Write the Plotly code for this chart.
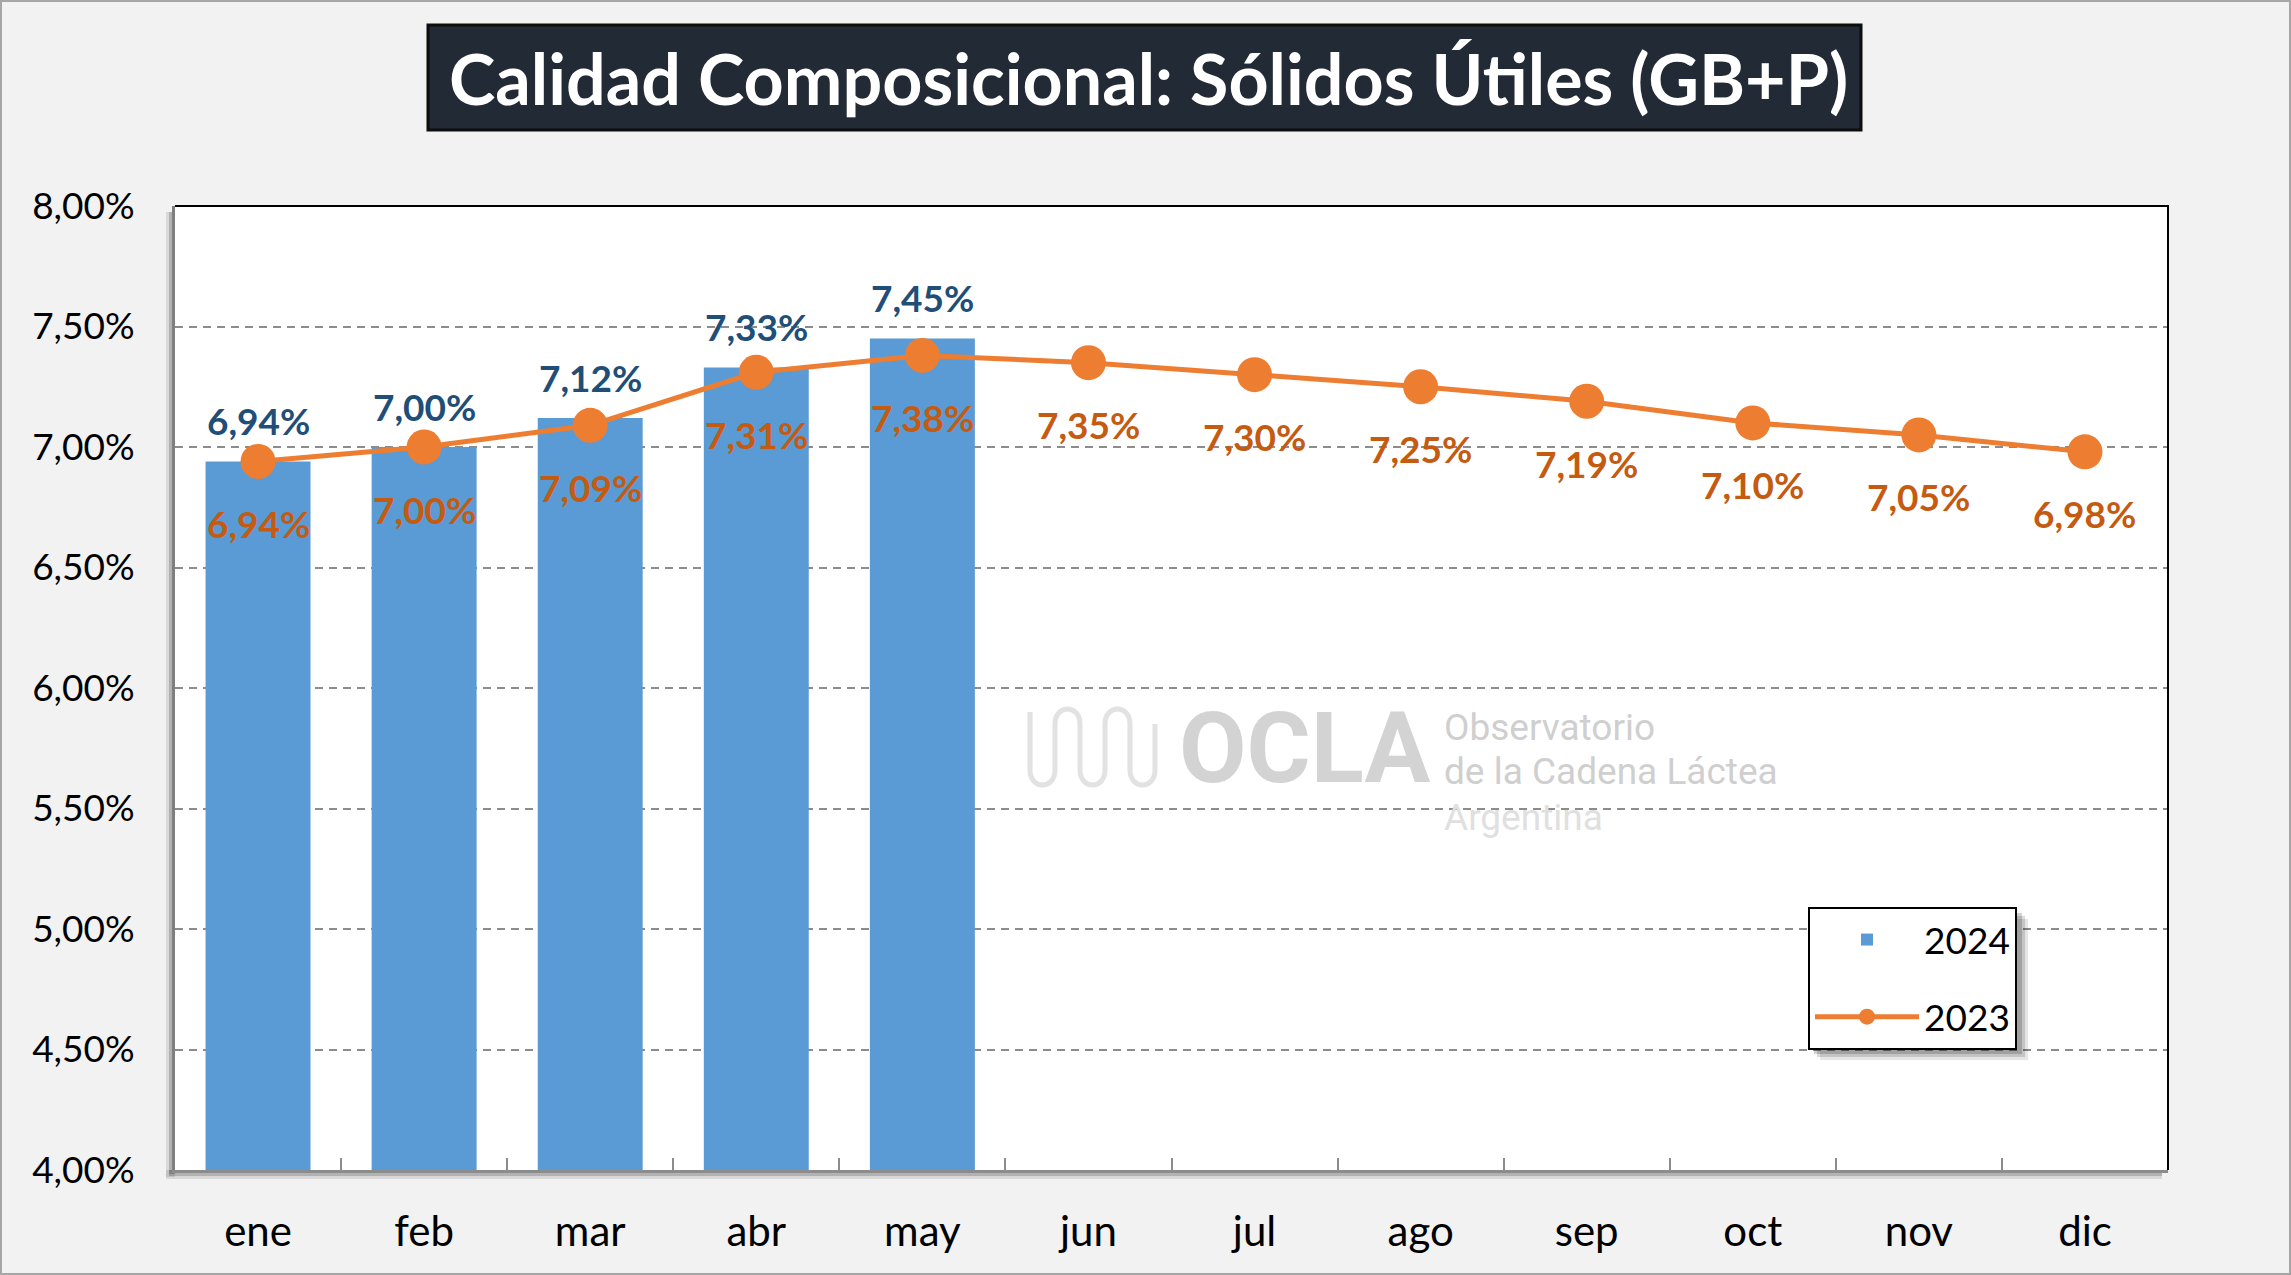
import plotly.graph_objects as go

# ---------------- data ----------------
months = ["ene", "feb", "mar", "abr", "may", "jun", "jul", "ago", "sep", "oct", "nov", "dic"]
solidos_2024 = [6.94, 7.00, 7.12, 7.33, 7.45]
solidos_2023 = [6.94, 7.00, 7.09, 7.31, 7.38, 7.35, 7.30, 7.25, 7.19, 7.10, 7.05, 6.98]
y_ticks = [4.0, 4.5, 5.0, 5.5, 6.0, 6.5, 7.0, 7.5, 8.0]
series_names = ["2024", "2023"]
title_text = "Calidad Composicional: Sólidos Útiles (GB+P)"

# ---------------- layout helpers (pixel -> paper) ----------------
W_PX, H_PX = 2291, 1275
L, R, T, B = 175, 2168, 206, 1170
PW, PH = R - L, B - T


def px(x):
    return (x - L) / PW


def py(y):
    return (B - y) / PH


def fmt(v):
    return f"{v:.2f}".replace(".", ",") + "%"


FONT = "Lato"
BAR_C = "#5B9BD5"
LINE_C = "#ED7D31"
LBL_BLUE = "#1F4E79"
LBL_ORANGE = "#C55A11"

fig = go.Figure()

fig.add_trace(go.Bar(
    x=months[:len(solidos_2024)], y=solidos_2024, name=series_names[0],
    marker=dict(color=BAR_C, line=dict(width=0)),
    legendgroup="a",
))

fig.add_trace(go.Scatter(
    x=months, y=solidos_2023, name=series_names[1], mode="lines+markers",
    line=dict(color=LINE_C, width=5),
    marker=dict(color=LINE_C, size=35),
    legendgroup="b",
))

annotations = []
for m, v in zip(months, solidos_2024):
    annotations.append(dict(x=m, y=v, xref="x", yref="y", text=f"<b>{fmt(v)}</b>",
                            showarrow=False, yshift=41, yanchor="middle",
                            font=dict(family=FONT, size=37, color=LBL_BLUE)))
for m, v in zip(months, solidos_2023):
    annotations.append(dict(x=m, y=v, xref="x", yref="y", text=f"<b>{fmt(v)}</b>",
                            showarrow=False, yshift=-62, yanchor="middle",
                            font=dict(family=FONT, size=37, color=LBL_ORANGE)))

# title text
annotations.append(dict(x=px(1148), y=py(78), xref="paper", yref="paper",
                        text=f"<b>{title_text}</b>", showarrow=False,
                        xanchor="center", yanchor="middle",
                        font=dict(family=FONT, size=70, color="white")))

# watermark
annotations.append(dict(x=px(1305), y=py(748), xref="paper", yref="paper",
                        text="<b>OCLA</b>", showarrow=False, xanchor="center", yanchor="middle",
                        font=dict(family="Roboto", size=98, color="#D3D3D3")))
for txt, yy, col in [("Observatorio", 727, "#CFCFCF"),
                     ("de la Cadena Láctea", 771, "#CFCFCF"),
                     ("Argentina", 817, "#E0E0E0")]:
    annotations.append(dict(x=px(1442), y=py(yy), xref="paper", yref="paper",
                            text=txt, showarrow=False, xanchor="left", yanchor="middle",
                            font=dict(family="Roboto", size=37, color=col)))

# ---------------- shapes ----------------
shapes = []
# outer image border
shapes.append(dict(type="rect", xref="paper", yref="paper",
                   x0=px(1), x1=px(W_PX - 1), y0=py(H_PX - 1), y1=py(1),
                   line=dict(color="#A6A6A6", width=2), fillcolor="rgba(0,0,0,0)", layer="below"))
# title box
shapes.append(dict(type="rect", xref="paper", yref="paper",
                   x0=px(428), x1=px(1861), y0=py(130), y1=py(25),
                   line=dict(color="#0D0D0D", width=3), fillcolor="#222A35", layer="below"))
# plot shadow (left / bottom)
for i, op in enumerate([0.10, 0.18, 0.28]):
    off = 9 - i * 3
    shapes.append(dict(type="rect", xref="paper", yref="paper",
                       x0=px(L - off), x1=px(L), y0=py(B + off - 2), y1=py(T + 6),
                       line=dict(width=0), fillcolor=f"rgba(0,0,0,{op})", layer="below"))
    shapes.append(dict(type="rect", xref="paper", yref="paper",
                       x0=px(L - off), x1=px(R - 6), y0=py(B + off), y1=py(B),
                       line=dict(width=0), fillcolor=f"rgba(0,0,0,{op})", layer="below"))
# top/right frame
shapes.append(dict(type="path", xref="paper", yref="paper",
                   path=f"M {px(L)},{py(T)} L {px(R)},{py(T)} L {px(R)},{py(B)}",
                   line=dict(color="#000000", width=2), layer="above"))
# legend drop shadow (legend box is drawn on top of it)
for i, op in enumerate([0.10, 0.14, 0.18]):
    off = 10 - i * 3
    shapes.append(dict(type="rect", xref="paper", yref="paper",
                       x0=px(1810 + off), x1=px(2018 + off), y0=py(1050 + off), y1=py(909 + off),
                       line=dict(width=0), fillcolor=f"rgba(0,0,0,{op})", layer="above"))

# watermark meander icon
cols = [1030, 1055, 1080, 1105, 1130, 1155]
top, bot = 712, 782
p = f"M {px(cols[0])},{py(top)} L {px(cols[0])},{py(bot - 12)}"
for i in range(len(cols) - 1):
    a, b = cols[i], cols[i + 1]
    if i % 2 == 0:
        p += (f" C {px(a)},{py(bot + 8)} {px(b)},{py(bot + 8)} {px(b)},{py(bot - 12)}"
              f" L {px(b)},{py(top + 12)}")
    else:
        p += (f" C {px(a)},{py(top - 8)} {px(b)},{py(top - 8)} {px(b)},{py(top + 12)}"
              f" L {px(b)},{py(bot - 12)}")
shapes.append(dict(type="path", xref="paper", yref="paper", path=p,
                   line=dict(color="#E2E2E2", width=5), layer="below"))

fig.update_layout(
    width=W_PX, height=H_PX,
    margin=dict(l=L, r=W_PX - R, t=T, b=H_PX - B, autoexpand=False),
    paper_bgcolor="#F2F2F2",
    plot_bgcolor="#FFFFFF",
    separators=",.",
    bargap=0.368,
    font=dict(family=FONT, size=36, color="#000000"),
    showlegend=True,
    legend=dict(x=px(1808), y=py(907), xanchor="left", yanchor="top",
                bgcolor="#FFFFFF", bordercolor="#000000", borderwidth=2,
                font=dict(family=FONT, size=37, color="#000000"),
                traceorder="grouped", tracegroupgap=26, itemwidth=104),
    annotations=annotations,
    shapes=shapes,
    hovermode=False,
)

fig.update_xaxes(
    type="category", categoryorder="array", categoryarray=months,
    range=[-0.5, len(months) - 0.5],
    showline=True, linecolor="#8C8C8C", linewidth=3,
    ticks="inside", tickson="boundaries", ticklen=12, tickcolor="#8C8C8C", tickwidth=2,
    ticklabelstandoff=23,
    tickfont=dict(family=FONT, size=42, color="#000000"),
    showgrid=False, zeroline=False,
)
fig.update_yaxes(
    range=[4.0, 8.0], tickvals=y_ticks, ticktext=[fmt(v) for v in y_ticks],
    showline=True, linecolor="#7F7F7F", linewidth=3,
    showgrid=True, gridcolor="#8C8C8C", gridwidth=2, griddash="8px,6px",
    ticks="", ticklabelstandoff=30,
    tickfont=dict(family=FONT, size=37, color="#000000"),
    zeroline=False,
)

fig.write_html("out.html", config={"displayModeBar": False},
               post_script="document.body.style.margin='0';document.body.style.overflow='hidden';")
